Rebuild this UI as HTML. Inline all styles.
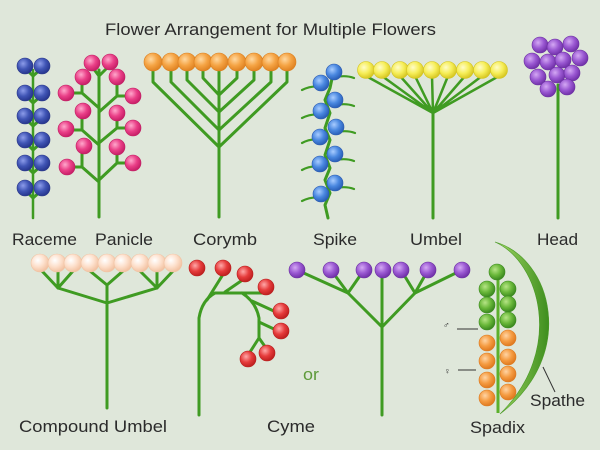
<!DOCTYPE html>
<html><head><meta charset="utf-8"><style>
html,body{margin:0;padding:0;background:#dfe7da;}
svg{display:block;}
text{font-family:"Liberation Sans",sans-serif;fill:#2b2b2b;font-size:17px;}
</style></head><body>
<svg width="600" height="450" viewBox="0 0 600 450" xmlns="http://www.w3.org/2000/svg">
<defs>
<radialGradient id="gBlue" cx="38%" cy="35%" r="65%"><stop offset="0" stop-color="#8c9cea"/><stop offset="0.55" stop-color="#4055b5"/><stop offset="1" stop-color="#27378f"/></radialGradient>
<radialGradient id="gPink" cx="38%" cy="35%" r="65%"><stop offset="0" stop-color="#ffa8cc"/><stop offset="0.55" stop-color="#ea4088"/><stop offset="1" stop-color="#c81f68"/></radialGradient>
<radialGradient id="gOr" cx="38%" cy="35%" r="65%"><stop offset="0" stop-color="#ffd8a0"/><stop offset="0.55" stop-color="#f5a444"/><stop offset="1" stop-color="#e08424"/></radialGradient>
<radialGradient id="gSky" cx="38%" cy="35%" r="65%"><stop offset="0" stop-color="#a8ccff"/><stop offset="0.55" stop-color="#4a88e0"/><stop offset="1" stop-color="#2a5fb8"/></radialGradient>
<radialGradient id="gYel" cx="38%" cy="35%" r="65%"><stop offset="0" stop-color="#fffcc8"/><stop offset="0.55" stop-color="#f6ee58"/><stop offset="1" stop-color="#d8c824"/></radialGradient>
<radialGradient id="gPur" cx="38%" cy="35%" r="65%"><stop offset="0" stop-color="#d4a8f4"/><stop offset="0.55" stop-color="#9a58d2"/><stop offset="1" stop-color="#7232aa"/></radialGradient>
<radialGradient id="gPeach" cx="38%" cy="35%" r="65%"><stop offset="0" stop-color="#ffffff"/><stop offset="0.55" stop-color="#fde0cc"/><stop offset="1" stop-color="#f2c2a2"/></radialGradient>
<radialGradient id="gRed" cx="38%" cy="35%" r="65%"><stop offset="0" stop-color="#ffa8a8"/><stop offset="0.55" stop-color="#e63c3c"/><stop offset="1" stop-color="#c02020"/></radialGradient>
<radialGradient id="gGrn" cx="38%" cy="35%" r="65%"><stop offset="0" stop-color="#b6e486"/><stop offset="0.55" stop-color="#6ab83a"/><stop offset="1" stop-color="#3c8a20"/></radialGradient>
<radialGradient id="gOr2" cx="38%" cy="35%" r="65%"><stop offset="0" stop-color="#ffd4a4"/><stop offset="0.55" stop-color="#f59c42"/><stop offset="1" stop-color="#e07a20"/></radialGradient>
<linearGradient id="gSpathe" x1="0" y1="0" x2="1" y2="0"><stop offset="0" stop-color="#a2d864"/><stop offset="1" stop-color="#3e8e1e"/></linearGradient>
</defs>

<rect width="600" height="450" fill="#dfe7da"/>

<text x="105" y="35" textLength="331" lengthAdjust="spacingAndGlyphs">Flower Arrangement for Multiple Flowers</text>

<!-- stems -->
<g stroke="#3f9b22" stroke-width="3" fill="none" stroke-linecap="round" stroke-linejoin="round">
  <!-- Raceme -->
  <path d="M33,70 V218" stroke-width="2.5"/>
  <path d="M33,76 L25,68 M33,76 L42,68 M33,103 L25,95 M33,103 L42,95 M33,126 L25,118 M33,126 L42,118 M33,150 L25,142 M33,150 L42,142 M33,173 L25,165 M33,173 L42,165 M33,198 L25,190 M33,198 L42,190"/>
  <!-- Panicle -->
  <path d="M99,70 V217"/>
  <path d="M99,76 L93,68 M99,76 L107,68"/>
  <path d="M99,108 L82,93 V84 M82,93 H73"/>
  <path d="M99,145 L82,130 V118 M82,130 H73"/>
  <path d="M99,182 L82,167 V153 M82,167 H74"/>
  <path d="M99,112 L117,96 V85 M117,96 H126"/>
  <path d="M99,143 L117,128 V120 M117,128 H126"/>
  <path d="M99,180 L117,163 V154 M117,163 H126"/>
  <!-- Corymb -->
  <path d="M219,62 V217"/>
  <path d="M203,62 V78 L219,95 M237,62 V78 L219,95"/>
  <path d="M187,62 V80 L219,112 M254,62 V80 L219,112"/>
  <path d="M171,62 V82 L219,130 M271,62 V82 L219,130"/>
  <path d="M153,62 V82 L219,147 M287,62 V82 L219,147"/>
  <!-- Spike -->
  <polyline points="328,218 325,205 330,193 325,180 330,168 325,155 330,140 325,128 330,113 325,100 330,88 333,74"/>
  <path d="M322,87 Q312,85 302,90 M322,115 Q312,113 302,118 M321,140 Q311,138 302,143 M321,167 Q311,165 302,170 M322,198 Q312,196 302,201" stroke-width="2.2"/>
  <path d="M336,77 Q346,75 354,78 M336,105 Q346,103 354,106 M337,132 Q347,130 355,133 M336,160 Q346,158 354,161 M336,188 Q346,186 354,189" stroke-width="2.2"/>
  <!-- Umbel -->
  <path d="M433,113 V218"/>
  <path d="M433,113 L366,76 M433,113 L382,76 M433,113 L400,76 M433,113 L415,76 M433,113 L432,76 M433,113 L448,76 M433,113 L465,76 M433,113 L482,76 M433,113 L499,76" stroke-width="2.5"/>
  <!-- Head -->
  <path d="M558,85 V218"/>
  <!-- Compound umbel -->
  <path d="M107,408 V285 M107,303 L58,288 M107,303 L157,288"/>
  <path d="M58,288 L42,271 M58,288 V270 M58,288 L73,271 M107,285 L90,271 M107,285 L123,271 M157,288 L140,271 M157,288 V270 M157,288 L173,271"/>
  <!-- Cyme -->
  <path d="M199,415 V318 Q202,300 215,293 H262"/>
  <path d="M207,300 L222,276 M225,292 L241,281"/>
  <path d="M242,293 Q256,302 259,318 V338 L250,352"/>
  <path d="M252,301 L276,312 M259,322 L276,330 M259,338 L266,348"/>
  <!-- Dichasium -->
  <path d="M382,415 V270 M382,327 L348,293 M382,327 L415,293"/>
  <path d="M348,293 L297,270 M348,293 L331,270 M348,293 L364,270 M415,293 L401,270 M415,293 L428,270 M415,293 L462,270"/>
</g>

<!-- Raceme balls -->
<g fill="url(#gBlue)" stroke="#2a3788" stroke-width="0.6">
  <circle cx="25" cy="66" r="8"/><circle cx="42" cy="66" r="8"/>
  <circle cx="25" cy="93" r="8"/><circle cx="42" cy="93" r="8"/>
  <circle cx="25" cy="116" r="8"/><circle cx="42" cy="116" r="8"/>
  <circle cx="25" cy="140" r="8"/><circle cx="42" cy="140" r="8"/>
  <circle cx="25" cy="163" r="8"/><circle cx="42" cy="163" r="8"/>
  <circle cx="25" cy="188" r="8"/><circle cx="42" cy="188" r="8"/>
</g>
<!-- Panicle balls -->
<g fill="url(#gPink)" stroke="#c01e62" stroke-width="0.6">
  <circle cx="92" cy="63" r="8"/><circle cx="110" cy="62" r="8"/>
  <circle cx="83" cy="77" r="8"/><circle cx="117" cy="77" r="8"/>
  <circle cx="66" cy="93" r="8"/><circle cx="133" cy="96" r="8"/>
  <circle cx="83" cy="111" r="8"/><circle cx="117" cy="113" r="8"/>
  <circle cx="66" cy="129" r="8"/><circle cx="133" cy="128" r="8"/>
  <circle cx="84" cy="146" r="8"/><circle cx="117" cy="147" r="8"/>
  <circle cx="67" cy="167" r="8"/><circle cx="133" cy="163" r="8"/>
</g>
<!-- Corymb balls -->
<g fill="url(#gOr)" stroke="#dc8020" stroke-width="0.6">
  <circle cx="153" cy="62" r="9"/><circle cx="171" cy="62" r="9"/><circle cx="187" cy="62" r="9"/>
  <circle cx="203" cy="62" r="9"/><circle cx="219" cy="62" r="9"/><circle cx="237" cy="62" r="9"/>
  <circle cx="254" cy="62" r="9"/><circle cx="271" cy="62" r="9"/><circle cx="287" cy="62" r="9"/>
</g>
<!-- Spike balls -->
<g fill="url(#gSky)" stroke="#2a5ab0" stroke-width="0.6">
  <circle cx="334" cy="72" r="8"/><circle cx="321" cy="83" r="8"/>
  <circle cx="335" cy="100" r="8"/><circle cx="321" cy="111" r="8"/>
  <circle cx="336" cy="127" r="8"/><circle cx="320" cy="137" r="8"/>
  <circle cx="335" cy="154" r="8"/><circle cx="320" cy="164" r="8"/>
  <circle cx="335" cy="183" r="8"/><circle cx="321" cy="194" r="8"/>
</g>
<!-- Umbel balls -->
<g fill="url(#gYel)" stroke="#d4c420" stroke-width="0.6">
  <circle cx="366" cy="70" r="8.5"/><circle cx="382" cy="70" r="8.5"/><circle cx="400" cy="70" r="8.5"/>
  <circle cx="415" cy="70" r="8.5"/><circle cx="432" cy="70" r="8.5"/><circle cx="448" cy="70" r="8.5"/>
  <circle cx="465" cy="70" r="8.5"/><circle cx="482" cy="70" r="8.5"/><circle cx="499" cy="70" r="8.5"/>
</g>
<!-- Head balls -->
<g fill="url(#gPur)" stroke="#6a2ea0" stroke-width="0.6">
  <circle cx="540" cy="45" r="8"/><circle cx="555" cy="47" r="8"/><circle cx="571" cy="44" r="8"/>
  <circle cx="532" cy="61" r="8"/><circle cx="548" cy="62" r="8"/><circle cx="563" cy="60" r="8"/><circle cx="580" cy="58" r="8"/>
  <circle cx="538" cy="77" r="8"/><circle cx="557" cy="75" r="8"/><circle cx="572" cy="73" r="8"/>
  <circle cx="548" cy="89" r="8"/><circle cx="567" cy="87" r="8"/>
</g>
<!-- Compound umbel balls -->
<g fill="url(#gPeach)" stroke="#f0c4a4" stroke-width="0.6">
  <circle cx="40" cy="263" r="9"/><circle cx="57" cy="263" r="9"/><circle cx="73" cy="263" r="9"/>
  <circle cx="90" cy="263" r="9"/><circle cx="107" cy="263" r="9"/><circle cx="123" cy="263" r="9"/>
  <circle cx="140" cy="263" r="9"/><circle cx="157" cy="263" r="9"/><circle cx="173" cy="263" r="9"/>
</g>
<!-- Cyme balls -->
<g fill="url(#gRed)" stroke="#b81c1c" stroke-width="0.6">
  <circle cx="197" cy="268" r="8"/><circle cx="223" cy="268" r="8"/><circle cx="245" cy="274" r="8"/>
  <circle cx="266" cy="287" r="8"/><circle cx="281" cy="311" r="8"/><circle cx="281" cy="331" r="8"/>
  <circle cx="267" cy="353" r="8"/><circle cx="248" cy="359" r="8"/>
</g>
<!-- Dichasium balls -->
<g fill="url(#gPur)" stroke="#6a2ea0" stroke-width="0.6">
  <circle cx="297" cy="270" r="8"/><circle cx="331" cy="270" r="8"/><circle cx="364" cy="270" r="8"/>
  <circle cx="383" cy="270" r="8"/><circle cx="401" cy="270" r="8"/><circle cx="428" cy="270" r="8"/>
  <circle cx="462" cy="270" r="8"/>
</g>

<!-- Spathe -->
<path d="M495,242 C552,258 578,355 500,414 C565,350 540,262 495,242 Z" fill="url(#gSpathe)" stroke="#4a9a26" stroke-width="0.6"/>
<!-- Spadix -->
<path d="M498,272 V413" stroke="#5cb02c" stroke-width="3" fill="none"/>
<g fill="url(#gGrn)" stroke="#3c8a20" stroke-width="0.6">
  <circle cx="497" cy="272" r="8"/>
  <circle cx="487" cy="289" r="8"/><circle cx="487" cy="305" r="8"/><circle cx="487" cy="322" r="8"/>
  <circle cx="508" cy="289" r="8"/><circle cx="508" cy="304" r="8"/><circle cx="508" cy="320" r="8"/>
</g>
<g fill="url(#gOr2)" stroke="#dc7a20" stroke-width="0.6">
  <circle cx="487" cy="343" r="8"/><circle cx="487" cy="361" r="8"/><circle cx="487" cy="380" r="8"/><circle cx="487" cy="398" r="8"/>
  <circle cx="508" cy="338" r="8"/><circle cx="508" cy="357" r="8"/><circle cx="508" cy="374" r="8"/><circle cx="508" cy="392" r="8"/>
</g>
<path d="M498,330 V413" stroke="#5cb02c" stroke-width="2.5" fill="none" opacity="0.9"/>

<!-- pointer lines -->
<g stroke="#333" stroke-width="1" fill="none">
  <path d="M457,329 H478"/>
  <path d="M458,370 H476"/>
  <path d="M543,367 L555,392"/>
</g>
<text x="443" y="328" style="font-size:9px">♂</text>
<text x="444" y="374" style="font-size:9px">♀</text>

<!-- labels -->
<text x="12" y="245" textLength="65" lengthAdjust="spacingAndGlyphs">Raceme</text>
<text x="95" y="245" textLength="58" lengthAdjust="spacingAndGlyphs">Panicle</text>
<text x="193" y="245" textLength="64" lengthAdjust="spacingAndGlyphs">Corymb</text>
<text x="313" y="245" textLength="44" lengthAdjust="spacingAndGlyphs">Spike</text>
<text x="410" y="245" textLength="52" lengthAdjust="spacingAndGlyphs">Umbel</text>
<text x="537" y="245" textLength="41" lengthAdjust="spacingAndGlyphs">Head</text>
<text x="19" y="432" textLength="148" lengthAdjust="spacingAndGlyphs">Compound Umbel</text>
<text x="267" y="432" textLength="48" lengthAdjust="spacingAndGlyphs">Cyme</text>
<text x="470" y="433" textLength="55" lengthAdjust="spacingAndGlyphs">Spadix</text>
<text x="530" y="406" textLength="55" lengthAdjust="spacingAndGlyphs">Spathe</text>
<text x="303" y="380" textLength="16" lengthAdjust="spacingAndGlyphs" style="fill:#5e9a3a">or</text>
</svg>
</body></html>
